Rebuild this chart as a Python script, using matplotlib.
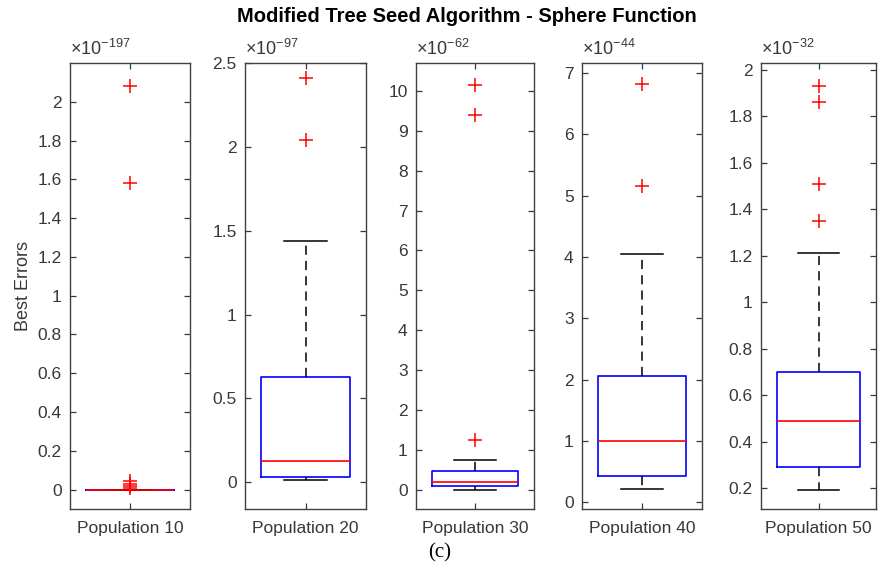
import matplotlib
matplotlib.use("Agg")
import matplotlib.pyplot as plt

plt.rcParams["font.family"] = ["Liberation Sans", "DejaVu Sans"]
plt.rcParams["mathtext.fontset"] = "custom"
plt.rcParams["mathtext.rm"] = "Liberation Sans"
plt.rcParams["mathtext.it"] = "Liberation Sans"

# box statistics (mantissas, shown with a x10^exp factor)
labels = ["Population 10", "Population 20", "Population 30", "Population 40", "Population 50"]
exponents = [-197, -97, -62, -44, -32]
medians = [0.0, 0.125, 0.2, 1.0, 0.49]
q1 = [0.0, 0.03, 0.09, 0.43, 0.29]
q3 = [0.0, 0.63, 0.48, 2.05, 0.70]
whisk_lo = [0.0, 0.01, 0.0, 0.21, 0.19]
whisk_hi = [0.0, 1.44, 0.76, 4.05, 1.21]
outliers = [
    [2.08, 1.58, 0.043, 0.031, 0.021, 0.009],
    [2.41, 2.04],
    [10.15, 9.4, 1.25],
    [6.82, 5.15],
    [1.93, 1.86, 1.51, 1.35],
]
ylims = [(-0.1, 2.2), (-0.16, 2.5), (-0.48, 10.7), (-0.11, 7.16), (0.11, 2.03)]
yticks = [
    [0, 0.2, 0.4, 0.6, 0.8, 1, 1.2, 1.4, 1.6, 1.8, 2],
    [0, 0.5, 1, 1.5, 2, 2.5],
    [0, 1, 2, 3, 4, 5, 6, 7, 8, 9, 10],
    [0, 1, 2, 3, 4, 5, 6, 7],
    [0.2, 0.4, 0.6, 0.8, 1, 1.2, 1.4, 1.6, 1.8, 2],
]

lefts = [70, 245, 416, 582, 761]
rights = [190, 366, 534, 702, 876]
W, H = 881, 576
top, bottom = 63, 509
grey = "#383838"

fig = plt.figure(figsize=(8.81, 5.76), dpi=100)

for i in range(5):
    ax = fig.add_axes([lefts[i] / W, 1 - bottom / H, (rights[i] - lefts[i]) / W, (bottom - top) / H])
    stats = [dict(med=medians[i], q1=q1[i], q3=q3[i], whislo=whisk_lo[i],
                  whishi=whisk_hi[i], fliers=outliers[i], label=labels[i])]
    ax.bxp(stats, positions=[1], widths=0.73, showfliers=True,
           boxprops=dict(color="blue", linewidth=1.2),
           medianprops=dict(color="red", linewidth=1.2),
           whiskerprops=dict(color="black", linewidth=1.1, linestyle=(0, (6, 4))),
           capprops=dict(color="black", linewidth=1.1),
           capwidths=0.35,
           flierprops=dict(marker="+", markeredgecolor="red", markersize=10, markeredgewidth=1.1))
    ax.set_xlim(0.5, 1.5)
    ax.set_ylim(*ylims[i])
    ax.set_yticks(yticks[i])
    ax.set_yticklabels([("%g" % t) for t in yticks[i]])
    ax.set_xticks([1])
    ax.set_xticklabels([labels[i]])
    ax.tick_params(direction="in", top=True, right=True, length=4, width=0.9,
                   colors=grey, labelsize=12.5, pad=6)
    ax.tick_params(axis="x", pad=9)
    for s in ax.spines.values():
        s.set_color("#404040")
        s.set_linewidth(1.0)
    ax.text(0, 1.008, r"$\times10^{%d}$" % exponents[i], transform=ax.transAxes,
            fontsize=13, color=grey, ha="left", va="bottom")
    if i == 0:
        ax.set_ylabel("Best Errors", fontsize=13, color=grey, labelpad=4)

fig.text(467 / W, 1 - 17 / H, "Modified Tree Seed Algorithm - Sphere Function",
         fontsize=14.5, fontweight="bold", ha="center", va="center")
fig.text(440 / W, 1 - 553 / H, "(c)", fontsize=15, family="Liberation Serif",
         ha="center", va="center")

fig.savefig("out.png", dpi=100)
